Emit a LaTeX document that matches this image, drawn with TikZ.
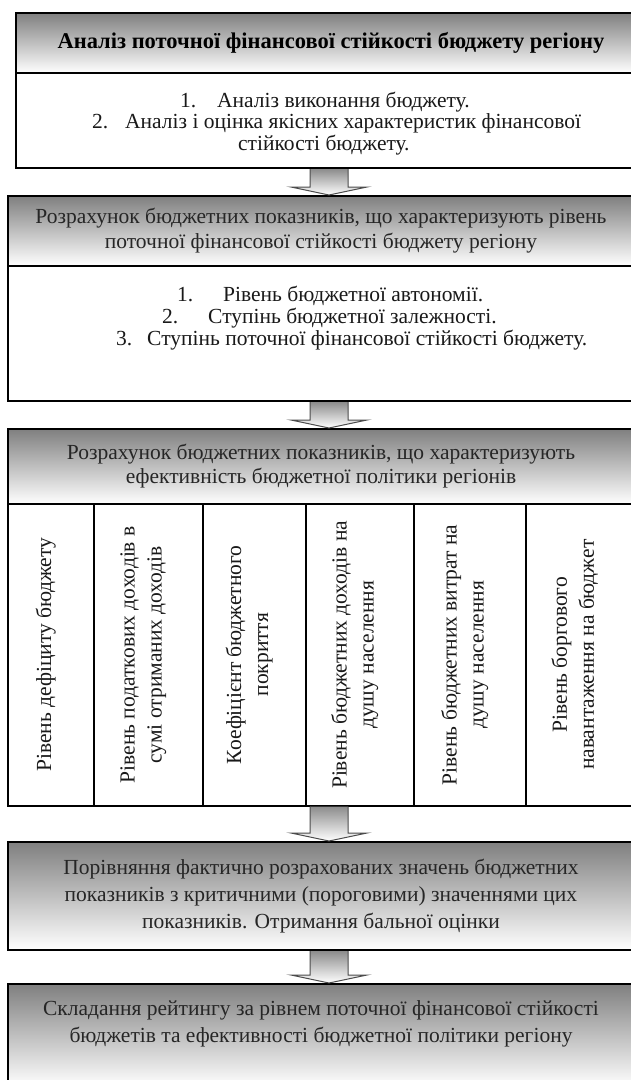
\documentclass[tikz,border=0pt]{standalone}
\usepackage{fontspec}
\setmainfont{Liberation Serif}
\usepackage{tikz}
\usetikzlibrary{calc}

\tikzset{
  hdr/.style={rectangle, draw=black, line width=2pt, top color=gray, bottom color=white, anchor=north west, inner sep=0pt, align=center, text=black!85, font=\fontsize{21.5}{24}\selectfont},
  body/.style={rectangle, draw=black, line width=2pt, fill=white, anchor=north west, inner sep=0pt},
  cell/.style={rectangle, draw=black, line width=1.5pt, fill=white, anchor=north west, inner sep=0pt, minimum height=302pt},
  item/.style={anchor=base west, inner sep=0pt, text=black!90, font=\fontsize{21.5}{25}\selectfont},
  coltext/.style={rotate=90, align=center, inner sep=0pt, text=black!90, font=\fontsize{21.5}{27}\selectfont},
  blockarr/.style={draw=black!70, line width=1pt, top color=gray!90, bottom color=white}
}

\begin{document}
\begin{tikzpicture}[x=1pt,y=-1pt]
\useasboundingbox (0,0) rectangle (631,1080);
\clip (0,0) rectangle (631,1080);

\node[body, minimum width=630pt, minimum height=95pt] (b1) at (15,72) {};
\node[hdr, minimum width=630pt, minimum height=60pt, text=black, font=\bfseries\fontsize{22.5}{26}\selectfont] (h1) at (15,12) {Аналіз поточної фінансової стійкості бюджету регіону};
\node[item] (n11) at (180,107) {1.};
\node[item] (t11) at (217,107) {Аналіз виконання бюджету.};
\node[item] (n12) at (92,128) {2.};
\node[item] (t12) at (125,128) {Аналіз і оцінка якісних характеристик фінансової};
\node[item] (t13) at (238,150) {стійкості бюджету.};

\node[body, minimum width=626pt, minimum height=135pt] (b2) at (7,265) {};
\node[hdr, minimum width=626pt, minimum height=70pt, font=\fontsize{21.5}{25}\selectfont] (h2) at (7,195) {Розрахунок бюджетних показників, що характеризують рівень\\поточної фінансової стійкості бюджету регіону};
\node[item] (n21) at (177,301) {1.};
\node[item] (t21) at (223,301) {Рівень бюджетної автономії.};
\node[item] (n22) at (162,323) {2.};
\node[item] (t22) at (208,323) {Ступінь бюджетної залежності.};
\node[item] (n23) at (116,345) {3.};
\node[item] (t23) at (147,345) {Ступінь поточної фінансової стійкості бюджету.};

\node[hdr, minimum width=626pt, minimum height=75pt] (h3) at (7,428) {Розрахунок бюджетних показників, що характеризують\\ефективність бюджетної політики регіонів};
\node[cell, minimum width=86pt] (c1) at (7,503) {};
\node[cell, minimum width=109pt] (c2) at (93,503) {};
\node[cell, minimum width=103pt] (c3) at (202,503) {};
\node[cell, minimum width=108pt] (c4) at (305,503) {};
\node[cell, minimum width=112pt] (c5) at (413,503) {};
\node[cell, minimum width=108pt] (c6) at (525,503) {};
\node[coltext] (r1) at ($(c1.center)+(-5,0)$) {Рівень дефіциту бюджету};
\node[coltext] (r2) at ($(c2.center)+(-5,0)$) {Рівень податкових доходів в\\сумі отриманих доходів};
\node[coltext] (r3) at ($(c3.center)+(-5,0)$) {Коефіцієнт бюджетного\\покриття};
\node[coltext] (r4) at ($(c4.center)+(-5,0)$) {Рівень бюджетних доходів на\\душу населення};
\node[coltext] (r5) at ($(c5.center)+(-5,0)$) {Рівень бюджетних витрат на\\душу населення};
\node[coltext] (r6) at ($(c6.center)+(-5,0)$) {Рівень боргового\\навантаження на бюджет};

\node[hdr, minimum width=626pt, minimum height=108pt, font=\fontsize{21.5}{27}\selectfont] (b4) at (7,841) {Порівняння фактично розрахованих значень бюджетних\\показників з критичними (пороговими) значеннями цих\\показників. Отримання бальної оцінки};
\node[hdr, minimum width=626pt, minimum height=103pt, font=\fontsize{21.5}{27}\selectfont] (b5) at (7,983) {Складання рейтингу за рівнем поточної фінансової стійкості\\бюджетів та ефективності бюджетної політики регіону\\~};

\coordinate (ax) at (329,0);
\foreach \a/\b in {b1/h2,b2/h3,c4/b4,b4/b5}
  \path[blockarr] ($(\a.south -| ax)+(-19,0)$) -- ($(\b.north -| ax)+(-19,-8)$) -- ($(\b.north -| ax)+(-38,-8)$) -- (\b.north -| ax) -- ($(\b.north -| ax)+(38,-8)$) -- ($(\b.north -| ax)+(19,-8)$) -- ($(\a.south -| ax)+(19,0)$);
\end{tikzpicture}
\end{document}
